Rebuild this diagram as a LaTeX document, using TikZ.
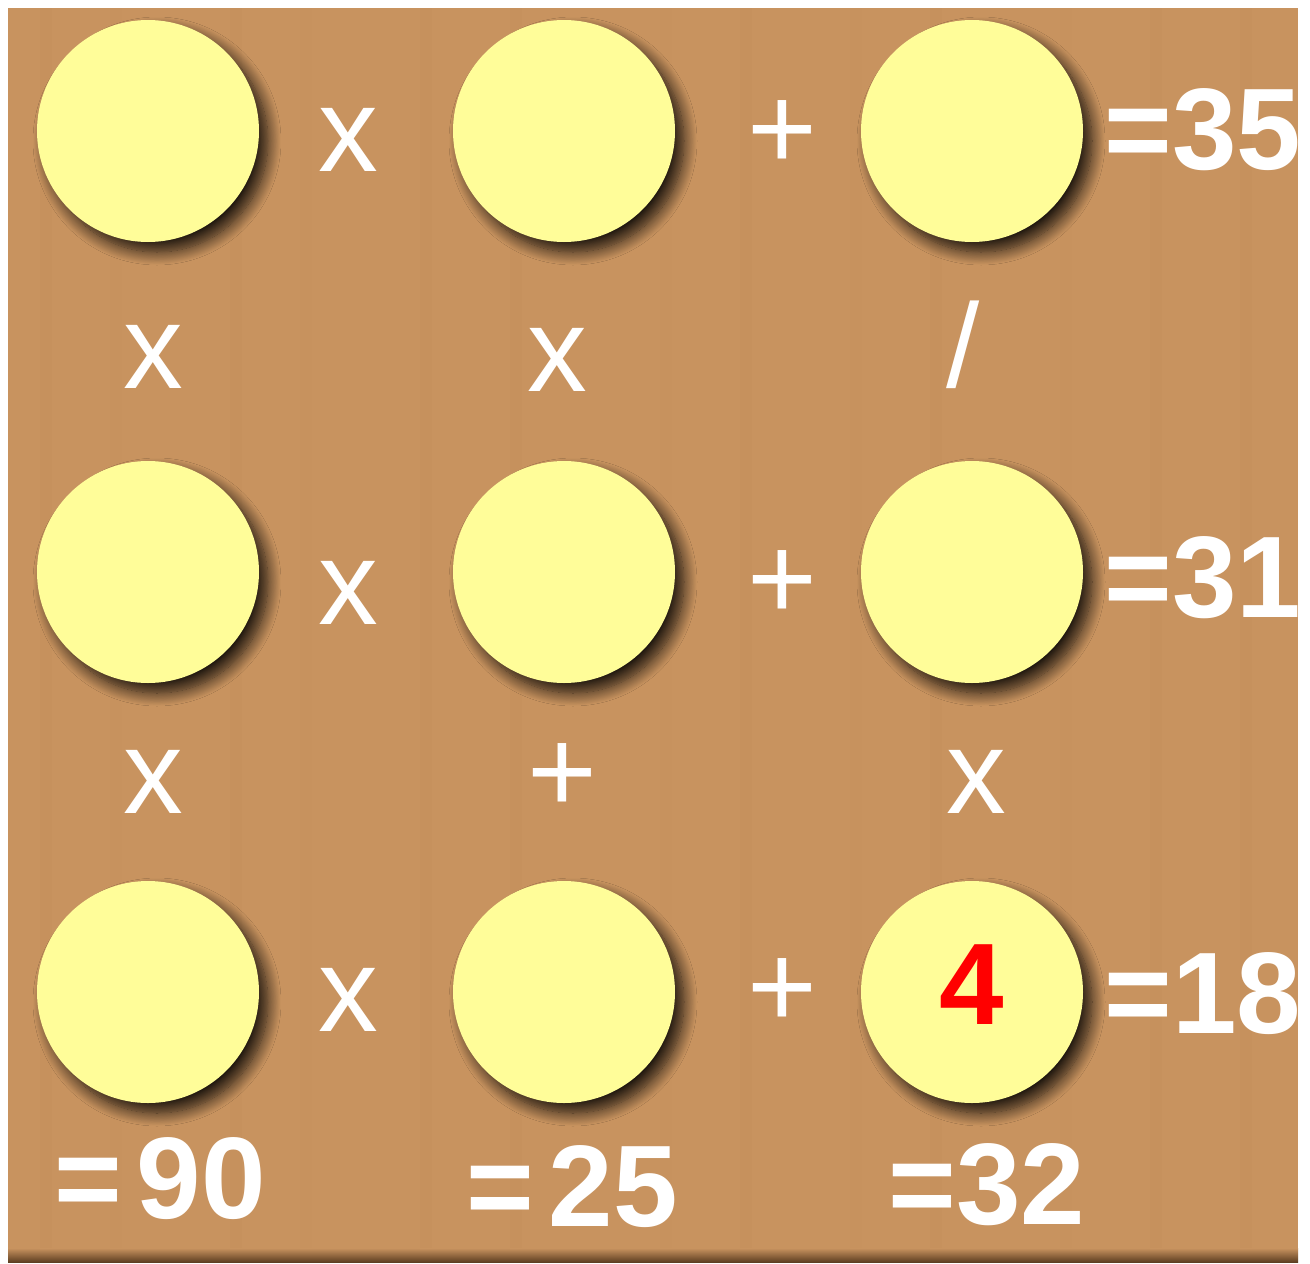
\documentclass[tikz,border=0pt]{standalone}
\usepackage{fontspec}
\setmainfont{Liberation Sans}
\usetikzlibrary{shadows.blur}
\definecolor{woodbg}{HTML}{C8935F}
\definecolor{woodgrain}{HTML}{B9834F}
\definecolor{woodedge}{HTML}{5E3F22}
\definecolor{ballfill}{HTML}{FFFD99}
\begin{document}
\begin{tikzpicture}[
  ball/.style={circle, fill=ballfill, minimum size=2.22cm, inner sep=0pt,
    blur shadow={shadow xshift=0.09cm, shadow yshift=-0.10cm,
      shadow blur radius=0.13cm, shadow blur steps=16, shadow opacity=85}},
  opsign/.style={text=white, font=\fontsize{34}{34}\selectfont, inner sep=0pt},
  result/.style={text=white, font=\fontsize{33}{33}\selectfont\bfseries, inner sep=0pt},
  given/.style={text=red, font=\fontsize{33}{33}\selectfont\bfseries, inner sep=0pt}
]
% Board
\useasboundingbox (0,0) rectangle (13.10,-12.64);
\fill[white] (0,0) rectangle (13.10,-12.64);
\fill[woodbg] (0.08,-0.08) rectangle (12.98,-12.50);
\shade[top color=woodbg, bottom color=woodedge] (0.08,-12.48) rectangle (12.98,-12.62);
\foreach \x/\o in {0.4/10, 1.1/6, 2.3/9, 3.0/5, 4.2/8, 5.1/10, 6.6/6, 7.4/9, 8.5/5, 9.3/8, 10.6/6, 11.5/9, 12.4/7}
    \fill[woodgrain, opacity=\o/100] (\x,-0.08) rectangle (\x+0.12,-12.48);

% Circles
\foreach \r/\y in {1/-1.31, 2/-5.72, 3/-9.92}
    \foreach \c/\x in {1/1.48, 2/5.64, 3/9.72}
        \node[ball] (c\r\c) at (\x,\y) {};
\node[given] (four) at ([yshift=0.07cm]c33.center) {4};

% Row operators
\node[opsign] (h11) at (3.48,-1.40) {x};
\node[opsign] (h12) at (7.82,-1.35) {+};
\node[opsign] (h21) at (3.48,-5.93) {x};
\node[opsign] (h22) at (7.82,-5.85) {+};
\node[opsign] (h31) at (3.48,-10.00) {x};
\node[opsign] (h32) at (7.82,-9.93) {+};

% Column operators
\node[opsign] (v11) at (1.53,-3.57) {x};
\node[opsign] (v12) at (5.57,-3.60) {x};
\node[opsign] (v13) at (9.63,-3.45) {/};
\node[opsign] (v21) at (1.53,-7.82) {x};
\node[opsign] (v22) at (5.62,-7.78) {+};
\node[opsign] (v23) at (9.76,-7.82) {x};

% Results
\node[result, anchor=west] (r1) at (11.04,-1.30) {=35};
\node[result, anchor=west] (r2) at (11.04,-5.78) {=31};
\node[result, anchor=west] (r3) at (11.04,-9.94) {=18};
\node[result] (b1) at (1.60,-11.79) {=\hspace{0.15cm}90};
\node[result] (b2) at (5.72,-11.87) {=\hspace{0.15cm}25};
\node[result] (b3) at (9.87,-11.85) {=32};
\end{tikzpicture}
\end{document}
